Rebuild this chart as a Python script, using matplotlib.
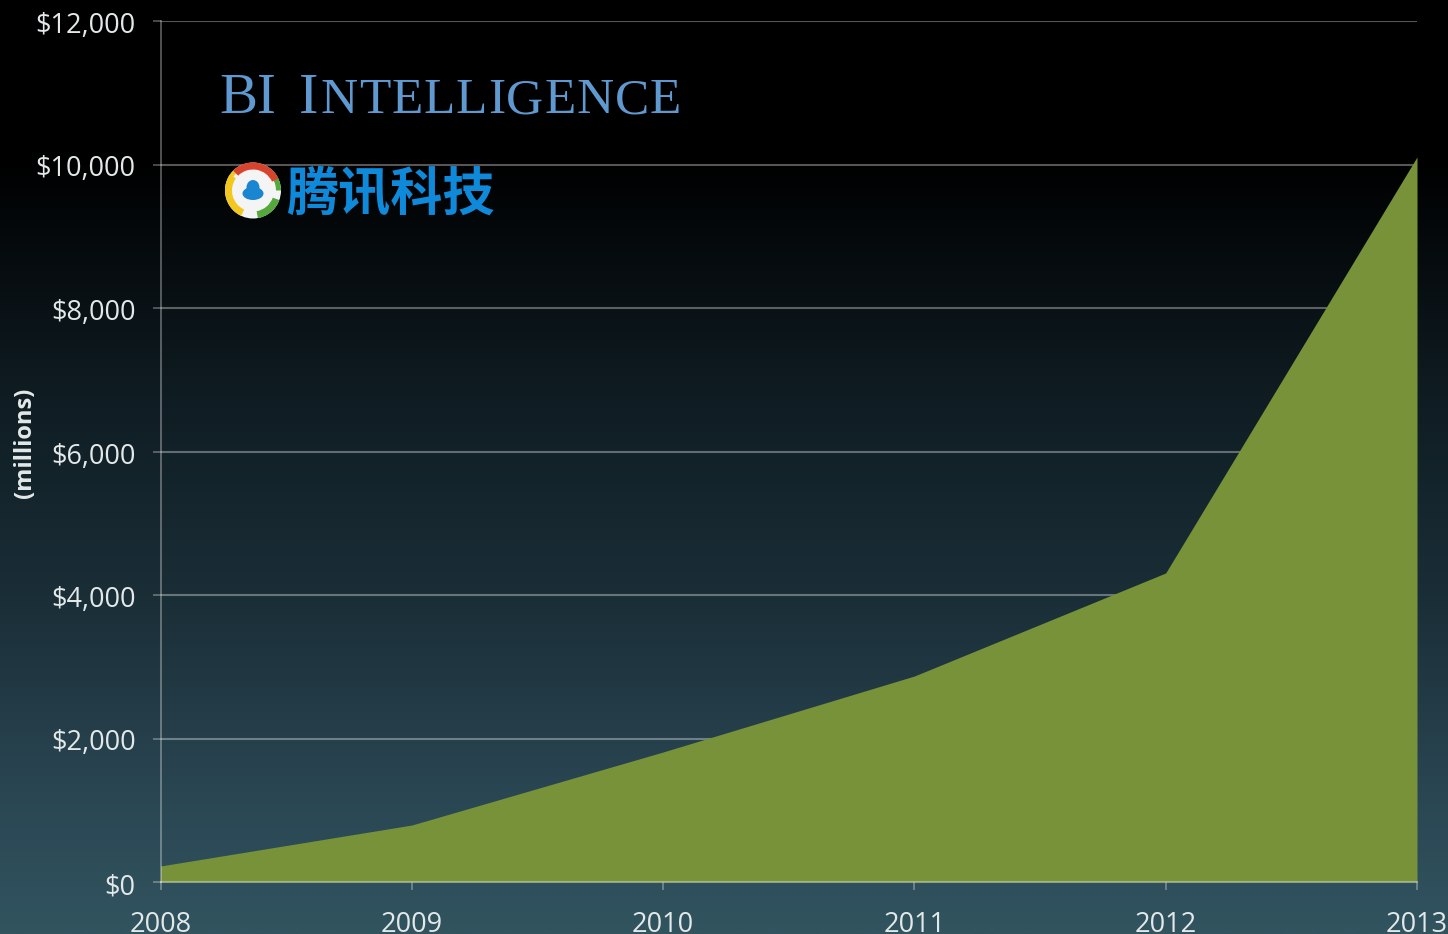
import numpy as np
import matplotlib
matplotlib.use("Agg")
import matplotlib.pyplot as plt
from matplotlib.colors import LinearSegmentedColormap
from matplotlib.patches import Circle, Wedge, Ellipse
from matplotlib.transforms import ScaledTranslation

years = [2008, 2009, 2010, 2011, 2012, 2013]
revenue = [223, 794, 1812, 2871, 4307, 10105]
y_ticks = [0, 2000, 4000, 6000, 8000, 10000, 12000]
y_labels = ["$0", "$2,000", "$4,000", "$6,000", "$8,000", "$10,000", "$12,000"]
y_title = "(millions)"

W, H = 1448, 934
fig = plt.figure(figsize=(W / 100, H / 100), dpi=100, facecolor="black")

# full-figure gradient background and pixel-coordinate overlay
bg = fig.add_axes([0, 0, 1, 1], zorder=0)
cmap = LinearSegmentedColormap.from_list("bg", [(0, "#000000"), (0.17, "#000000"), (0.42, "#0f1c22"),
                                                (0.65, "#1b2f38"), (0.85, "#2a4653"), (1, "#31545f")])
bg.imshow(np.linspace(0, 1, 512).reshape(-1, 1), aspect="auto", cmap=cmap, extent=[0, W, H, 0])
bg.set_xlim(0, W); bg.set_ylim(H, 0); bg.axis("off")

ax = fig.add_axes([160.5 / W, 1 - 882 / H, (1417 - 160.5) / W, (882 - 21) / H], zorder=1)
ax.patch.set_alpha(0)
ax.set_xlim(2008, 2013)
ax.set_ylim(0, 12000)
line = (1, 1, 1, 0.34)
ax.set_yticks(y_ticks, y_labels)
ax.set_xticks(years, [str(y) for y in years])
ax.grid(axis="y", color="white", alpha=0.34, lw=1.5, zorder=1)
ax.fill_between(years, revenue, 0, color="#78923a", lw=0, zorder=2)
for s in ("top", "right", "bottom"):
    ax.spines[s].set_visible(False)
ax.spines["left"].set_color(line); ax.spines["left"].set_linewidth(1.3)
ax.axhline(0, color=line, lw=1.5, zorder=3, clip_on=False)
ax.tick_params(axis="both", color=line, length=6, width=1.2, labelcolor="#e3e8e9", labelsize=19.5)
ax.tick_params(axis="y", pad=12)
ax.tick_params(axis="x", pad=15)
label_shift = ScaledTranslation(0, -5 / 100, fig.dpi_scale_trans)
for t in ax.get_xticklabels() + ax.get_yticklabels():
    t.set_family("Open Sans")
for t in ax.get_yticklabels():
    t.set_verticalalignment("center")
    t.set_transform(t.get_transform() + label_shift)
ax.set_axisbelow(True)

ov = fig.add_axes([0, 0, 1, 1], zorder=2)
ov.set_xlim(0, W); ov.set_ylim(H, 0); ov.axis("off")
ov.text(25, 443, y_title, rotation=90, color="#e3e8e9", fontsize=17, fontweight="bold",
        family="Open Sans", ha="center", va="center")

# BI Intelligence wordmark in small caps with wide tracking
blue = "#5f99cf"
renderer = fig.canvas.get_renderer()
def tracked(word, x0, x1, size):
    probe = ov.text(0, 0, word, fontsize=size, family="Liberation Serif")
    lefts = []
    for i in range(len(word)):
        probe.set_text(word[:i + 1])
        lefts.append(probe.get_window_extent(renderer).width)
    probe.remove()
    gap = (x1 - x0 - lefts[-1]) / max(len(word) - 1, 1)
    prev = 0
    for i, ch in enumerate(word):
        ov.text(x0 + prev + gap * i, 113, ch, color=blue, fontsize=size,
                family="Liberation Serif", ha="left", va="baseline")
        prev = lefts[i]
ov.text(219, 113, "BI", color=blue, fontsize=41, family="Liberation Serif", ha="left", va="baseline")
ov.text(299, 113, "I", color=blue, fontsize=42, family="Liberation Serif", ha="left", va="baseline")
tracked("NTELLIGENCE", 321, 681, 37)

# Tencent logo
cx, cy = 253, 190.5
ov.add_patch(Circle((cx, cy), 28, fc="#f4f4f4", ec="none"))
ov.add_patch(Wedge((cx, cy), 28, 115, 215, width=7, fc="#f2c81e", ec="none"))
ov.add_patch(Wedge((cx, cy), 28, 185, 245, width=4, fc="#f2c81e", ec="none"))
ov.add_patch(Wedge((cx, cy), 28, 300, 360, width=5, fc="#55a83c", ec="none"))
ov.add_patch(Wedge((cx, cy), 28, 20, 80, width=7, fc="#55a83c", ec="none"))
ov.add_patch(Wedge((cx, cy), 28, 225, 335, width=7, fc="#d8432e", ec="none"))
ov.add_patch(Ellipse((cx, cy + 3), 21, 13, fc="#1a86cf", ec="none"))
ov.add_patch(Ellipse((cx, cy - 3), 13, 15, fc="#1a86cf", ec="none"))
ov.text(286, 195, "腾讯科技", color="#0f8adb", fontsize=37.5, fontweight="bold",
        family=["Noto Sans CJK SC", "DejaVu Sans"], ha="left", va="center")

fig.savefig("out.png", dpi=100, facecolor="black")
